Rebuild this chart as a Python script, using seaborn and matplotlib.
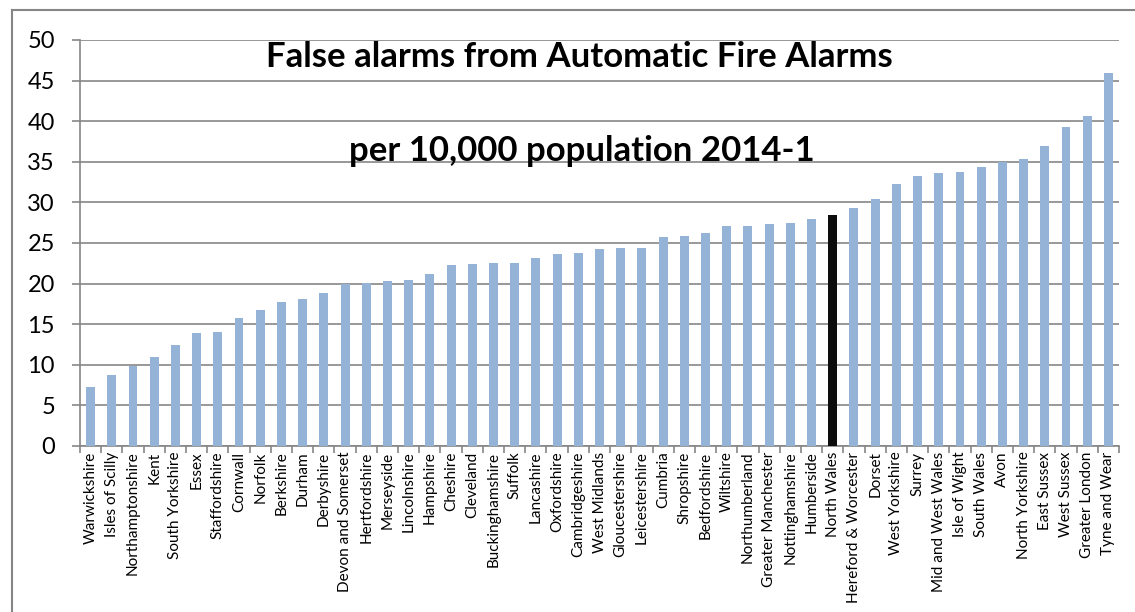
import matplotlib.pyplot as plt
import seaborn as sns
import pandas as pd
from matplotlib.lines import Line2D

# data
areas = ['Warwickshire', 'Isles of Scilly', 'Northamptonshire', 'Kent', 'South Yorkshire',
         'Essex', 'Staffordshire', 'Cornwall', 'Norfolk', 'Berkshire', 'Durham', 'Derbyshire',
         'Devon and Somerset', 'Hertfordshire', 'Merseyside', 'Lincolnshire', 'Hampshire',
         'Cheshire', 'Cleveland', 'Buckinghamshire', 'Suffolk', 'Lancashire', 'Oxfordshire',
         'Cambridgeshire', 'West Midlands', 'Gloucestershire', 'Leicestershire', 'Cumbria',
         'Shropshire', 'Bedfordshire', 'Wiltshire', 'Northumberland', 'Greater Manchester',
         'Nottinghamshire', 'Humberside', 'North Wales', 'Hereford & Worcester', 'Dorset',
         'West Yorkshire', 'Surrey', 'Mid and West Wales', 'Isle of Wight', 'South Wales',
         'Avon', 'North Yorkshire', 'East Sussex', 'West Sussex', 'Greater London',
         'Tyne and Wear']
rates = [7.3, 8.7, 9.8, 10.9, 12.5, 13.9, 14.1, 15.8, 16.7, 17.7, 18.1, 18.8,
         19.9, 20.1, 20.3, 20.5, 21.2, 22.3, 22.4, 22.5, 22.5, 23.1, 23.6,
         23.8, 24.3, 24.4, 24.4, 25.7, 25.9, 26.2, 27.1, 27.1, 27.4,
         27.5, 27.9, 28.4, 29.3, 30.4, 32.3, 33.3, 33.6, 33.7, 34.4,
         35.0, 35.4, 37.0, 39.3, 40.6, 45.9]
highlight = 'North Wales'

df = pd.DataFrame({'area': areas, 'rate': rates})
colours = {a: ('#0d0d0d' if a == highlight else '#95b3d7') for a in areas}

FONT = 'Lato'
W, H = 1135, 612
fig = plt.figure(figsize=(W / 100, H / 100), dpi=100)
ax = fig.add_axes([80 / W, 1 - 446 / H, (1119 - 80) / W, (446 - 40) / H])

sns.barplot(data=df, x='area', y='rate', hue='area', palette=colours, saturation=1,
            width=0.42, legend=False, ax=ax, zorder=3)

ax.set_ylim(0, 50)
ax.set_xlim(-0.5, len(areas) - 0.5)
ax.set_yticks(range(0, 51, 5))
ax.yaxis.grid(True, color='#868686', linewidth=1.2, zorder=0)
ax.set_axisbelow(True)
ax.set_xlabel('')
ax.set_ylabel('')

for s in ['top', 'right']:
    ax.spines[s].set_visible(False)
for s in ['left', 'bottom']:
    ax.spines[s].set_color('#868686')
    ax.spines[s].set_linewidth(1.2)

# category ticks sit between the bars
ax.set_xticks(range(len(areas)))
ax.set_xticklabels(areas, rotation=90, fontsize=11, family=FONT)
ax.tick_params(axis='x', length=0, pad=4)
ax.set_xticks([i - 0.5 for i in range(len(areas) + 1)], minor=True)
ax.tick_params(axis='x', which='minor', length=5, color='#868686', width=1.2)
ax.tick_params(axis='y', length=6, color='#868686', width=1.2, labelsize=17, pad=12)
for lab in ax.get_yticklabels():
    lab.set_family(FONT)

ax.text(0.481, 0.957, 'False alarms from Automatic Fire Alarms', transform=ax.transAxes,
        ha='center', va='center', fontsize=25, fontweight='bold', family=FONT)
ax.text(0.483, 0.727, 'per 10,000 population 2014-1', transform=ax.transAxes,
        ha='center', va='center', fontsize=25, fontweight='bold', family=FONT)

# chart border (only left and top fall inside the picture)
fig.add_artist(Line2D([11.5 / W, 11.5 / W], [0, 1 - 10 / H], transform=fig.transFigure,
                      color='#868686', linewidth=1.5))
fig.add_artist(Line2D([11.5 / W, 1], [1 - 10 / H, 1 - 10 / H], transform=fig.transFigure,
                      color='#868686', linewidth=1.5))

fig.savefig('out.png', dpi=100)
